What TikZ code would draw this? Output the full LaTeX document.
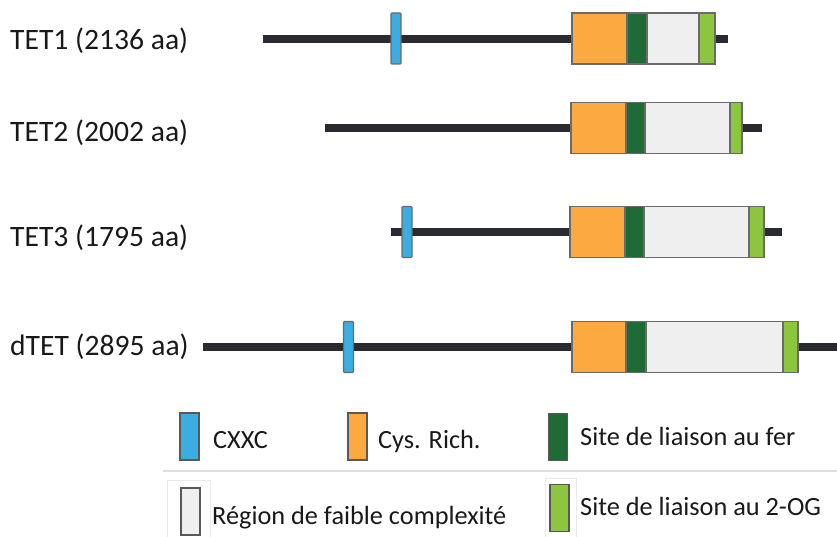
\documentclass[tikz,border=0pt]{standalone}
\usepackage{fontspec}
\setmainfont{Carlito}
\definecolor{cxxc}{HTML}{3AAEE2}
\definecolor{cys}{HTML}{FBA941}
\definecolor{fer}{HTML}{1E6B35}
\definecolor{lowc}{HTML}{EFEFEF}
\definecolor{og}{HTML}{8CC63F}
\definecolor{bb}{HTML}{2A2A31}
\definecolor{edge}{HTML}{6A6A6A}
\begin{document}
\begin{tikzpicture}[x=1pt,y=-1pt,
  backbone/.style={draw=bb,line width=8pt},
  seg/.style={draw=edge,line width=1.2pt,inner sep=0pt,outer sep=0pt,minimum height=51pt},
  cx/.style={seg,fill=cxxc,minimum width=10pt,rounded corners=1pt},
  lab/.style={anchor=base west,inner sep=0pt,font=\fontsize{29.6}{34}\selectfont,text=black!90},
  leg/.style={anchor=base west,inner sep=0pt,font=\fontsize{26.3}{30}\selectfont,text=black!90},
  legbox/.style={draw=black!65,line width=1.8pt,inner sep=0pt,minimum width=19pt,minimum height=47pt}]
\useasboundingbox (0,0) rectangle (837,537);

% ---------- TET1 ----------
\node[lab] (l1) at (10,50) {TET1 (2136 aa)};
\coordinate (a1) at (263,39); \coordinate (b1) at (728,39);
\draw[backbone] (a1) -- (b1);
\node[seg,fill=cys,minimum width=55pt]  (o1) at (599.5,38.5) {};
\node[seg,fill=fer,minimum width=20pt]  (f1) at (637,38.5) {};
\node[seg,fill=lowc,minimum width=52pt] (w1) at (673,38.5) {};
\node[seg,fill=og,minimum width=16pt]   (g1) at (707,38.5) {};
\node[cx] (c1) at (396,38.5) {};

% ---------- TET2 ----------
\node[lab] (l2) at (10,142) {TET2 (2002 aa)};
\coordinate (a2) at (325,128); \coordinate (b2) at (762,128);
\draw[backbone] (a2) -- (b2);
\node[seg,fill=cys,minimum width=55pt]  (o2) at (598.5,128) {};
\node[seg,fill=fer,minimum width=19pt]  (f2) at (635.5,128) {};
\node[seg,fill=lowc,minimum width=85pt] (w2) at (687.5,128) {};
\node[seg,fill=og,minimum width=12pt]   (g2) at (736,128) {};

% ---------- TET3 ----------
\node[lab] (l3) at (10,247) {TET3 (1795 aa)};
\coordinate (a3) at (391,232); \coordinate (b3) at (782,232);
\draw[backbone] (a3) -- (b3);
\node[seg,fill=cys,minimum width=55pt]   (o3) at (597.5,232) {};
\node[seg,fill=fer,minimum width=19pt]   (f3) at (634.5,232) {};
\node[seg,fill=lowc,minimum width=105pt] (w3) at (696.5,232) {};
\node[seg,fill=og,minimum width=15pt]    (g3) at (756.5,232) {};
\node[cx] (c3) at (407,232) {};

% ---------- dTET ----------
\node[lab] (l4) at (10,355) {dTET (2895 aa)};
\coordinate (a4) at (203,347); \coordinate (b4) at (837,347);
\draw[backbone] (a4) -- (b4);
\node[seg,fill=cys,minimum width=54pt]   (o4) at (599,347) {};
\node[seg,fill=fer,minimum width=20pt]   (f4) at (636,347) {};
\node[seg,fill=lowc,minimum width=137pt] (w4) at (714.5,347) {};
\node[seg,fill=og,minimum width=15pt]    (g4) at (790.5,347) {};
\node[cx] (c4) at (348.5,347) {};

% ---------- Legend ----------
\coordinate (sepa) at (163,471); \coordinate (sepb) at (837,471);
\draw[draw=black!13,line width=1.5pt] (sepa) -- (sepb);
\draw[draw=black!8,line width=0.8pt] (167,537) |- (210,480) -- (210,537);
\draw[draw=black!8,line width=0.8pt] (545,537) |- (576,478) -- (576,537);

\node[legbox,fill=cxxc] (k1) at (189.5,436.5) {};
\node[leg] (t1) at (213,448.5) {CXXC};
\node[legbox,fill=cys] (k2) at (357.5,436.5) {};
\node[leg] (t2) at (378,448.5) {Cys. Rich.};
\node[legbox,fill=fer] (k3) at (558,437) {};
\node[leg] (t3) at (580,445) {Site de liaison au fer};
\node[legbox,fill=lowc] (k4) at (190.5,511.5) {};
\node[leg] (t4) at (212,524) {Région de faible complexité};
\node[legbox,fill=og] (k5) at (559.5,508) {};
\node[leg] (t5) at (580,515) {Site de liaison au 2-OG};
\end{tikzpicture}
\end{document}
